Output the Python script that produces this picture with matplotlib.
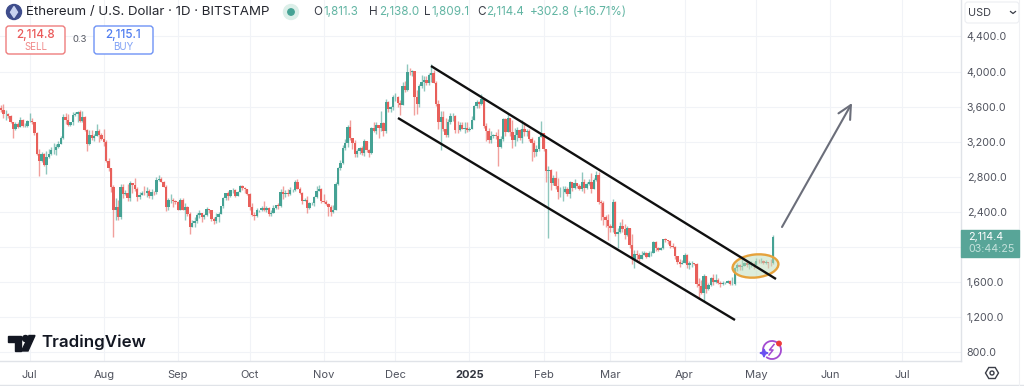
import numpy as np
import matplotlib
matplotlib.use("Agg")
import matplotlib.pyplot as plt
from matplotlib.patches import Circle, Ellipse, FancyBboxPatch, Polygon, Rectangle, Arc

plt.rcParams['font.family'] = ['Inter', 'DejaVu Sans']

# daily candles, first one is 19 Jun 2024, last one 8 May 2025
first_open = 3580
closes = [
    3560, 3515, 3515, 3490, 3420, 3350, 3400, 3370, 3450, 3375, 3375, 3435,  # jun
    3440, 3420, 3295, 3060, 2985, 3065, 2935, 3020, 3065, 3100, 3100, 3135, 3175, 3245, 3485, 3445,
    3385, 3425, 3505, 3520, 3535, 3440, 3480, 3335, 3175, 3275, 3245, 3270, 3320, 3280, 3230,  # jul
    3200, 2985, 2905, 2685, 2420, 2460, 2340, 2680, 2600, 2610, 2555, 2725, 2700, 2660, 2570, 2590,
    2615, 2610, 2635, 2575, 2630, 2625, 2765, 2770, 2745, 2685, 2455, 2530, 2530, 2525, 2515,  # aug
    2425, 2535, 2425, 2450, 2370, 2225, 2270, 2295, 2360, 2385, 2340, 2360, 2435, 2415, 2315, 2295,
    2340, 2370, 2465, 2560, 2610, 2580, 2645, 2650, 2580, 2630, 2695, 2675, 2660, 2600,  # sep
    2450, 2365, 2350, 2415, 2415, 2440, 2420, 2440, 2370, 2385, 2440, 2475, 2465, 2630, 2605, 2610,
    2605, 2645, 2645, 2745, 2665, 2620, 2525, 2535, 2440, 2505, 2505, 2570, 2640, 2660, 2520,  # oct
    2510, 2490, 2455, 2400, 2425, 2720, 2895, 2960, 3125, 3180, 3370, 3240, 3185, 3060, 3090, 3130,
    3070, 3205, 3105, 3070, 3355, 3325, 3395, 3360, 3415, 3325, 3655, 3575, 3590, 3705,  # nov
    3705, 3645, 3615, 3835, 3785, 4000, 3995, 4005, 3705, 3625, 3835, 3880, 3905, 3870, 3960, 3985,
    3875, 3625, 3420, 3480, 3340, 3280, 3420, 3490, 3495, 3335, 3330, 3395, 3350, 3360, 3335,  # dec
    3350, 3450, 3605, 3655, 3635, 3685, 3380, 3325, 3220, 3265, 3280, 3265, 3135, 3225, 3455, 3305,
    3475, 3310, 3215, 3280, 3330, 3240, 3340, 3310, 3320, 3230, 3185, 3080, 3115, 3250, 3300,  # jan
    3120, 2870, 2880, 2730, 2785, 2690, 2625, 2630, 2630, 2660, 2600, 2735, 2675, 2725, 2695, 2660,
    2745, 2670, 2715, 2740, 2660, 2765, 2820, 2515, 2495, 2335, 2305, 2240,  # feb
    2215, 2515, 2150, 2175, 2240, 2200, 2140, 2210, 2020, 1865, 1920, 1910, 1860, 1910, 1935, 1885,
    1925, 1930, 2055, 1985, 1965, 1985, 2085, 2080, 2065, 2010, 2000, 1895, 1830, 1805, 1820,  # mar
    1905, 1795, 1815, 1815, 1805, 1580, 1555, 1475, 1665, 1520, 1565, 1645, 1595, 1625, 1590, 1575,
    1585, 1590, 1615, 1580, 1580, 1755, 1795, 1770, 1785, 1820, 1795, 1800, 1800, 1795,  # apr
    1840, 1835, 1835, 1810, 1825, 1815, 1811, 2114,  # may
]
highs = [
    3620, 3625, 3565, 3525, 3500, 3425, 3430, 3425, 3480, 3460, 3410, 3450,
    3525, 3465, 3430, 3315, 3115, 3085, 3070, 3095, 3115, 3135, 3180, 3170, 3205, 3265, 3515, 3530,
    3515, 3430, 3540, 3535, 3545, 3565, 3550, 3490, 3350, 3335, 3330, 3285, 3400, 3340, 3300,
    3345, 3215, 3015, 2860, 2700, 2555, 2530, 2720, 2720, 2645, 2715, 2750, 2730, 2780, 2680, 2625,
    2640, 2690, 2680, 2660, 2665, 2635, 2795, 2820, 2795, 2755, 2700, 2555, 2600, 2560, 2530,
    2525, 2560, 2555, 2500, 2465, 2400, 2305, 2340, 2390, 2420, 2385, 2380, 2460, 2425, 2420, 2345,
    2385, 2395, 2470, 2570, 2620, 2640, 2650, 2675, 2660, 2640, 2710, 2705, 2680, 2660,
    2610, 2500, 2400, 2440, 2425, 2465, 2520, 2465, 2460, 2420, 2480, 2480, 2500, 2660, 2690, 2650,
    2660, 2680, 2660, 2760, 2770, 2680, 2630, 2560, 2585, 2510, 2510, 2585, 2690, 2700, 2670,
    2600, 2540, 2495, 2480, 2480, 2735, 2910, 2990, 3160, 3235, 3395, 3450, 3240, 3220, 3115, 3135,
    3145, 3230, 3155, 3120, 3365, 3430, 3430, 3375, 3550, 3430, 3685, 3660, 3605, 3735,
    3760, 3720, 3680, 3885, 3890, 4090, 4040, 4020, 4010, 3785, 3860, 3965, 3950, 3955, 3985, 4085,
    4015, 3895, 3680, 3550, 3550, 3475, 3460, 3530, 3530, 3510, 3440, 3420, 3430, 3430, 3425,
    3365, 3490, 3620, 3675, 3660, 3745, 3700, 3410, 3355, 3320, 3290, 3305, 3345, 3260, 3475, 3475,
    3525, 3440, 3450, 3360, 3365, 3350, 3450, 3420, 3350, 3350, 3255, 3215, 3160, 3270, 3440,
    3255, 3120, 2925, 2890, 2825, 2860, 2790, 2680, 2695, 2690, 2680, 2750, 2740, 2770, 2730, 2715,
    2850, 2770, 2735, 2770, 2845, 2785, 2860, 2850, 2530, 2525, 2365, 2380,
    2260, 2545, 2520, 2220, 2280, 2320, 2260, 2235, 2215, 2145, 1965, 1960, 1930, 1950, 1950, 1945,
    1955, 1950, 2065, 2070, 2000, 2000, 2090, 2105, 2080, 2075, 2040, 2015, 1900, 1860, 1850,
    1925, 1920, 1835, 1835, 1820, 1815, 1640, 1620, 1690, 1670, 1590, 1655, 1690, 1690, 1645, 1605,
    1615, 1600, 1625, 1620, 1660, 1770, 1810, 1800, 1860, 1830, 1830, 1835, 1835, 1830,
    1875, 1865, 1870, 1845, 1850, 1825, 1860, 2138,
]
lows = [
    3540, 3465, 3445, 3470, 3415, 3240, 3335, 3360, 3365, 3365, 3365, 3365,
    3420, 3400, 3280, 3050, 2810, 2965, 2925, 2830, 3010, 3045, 3060, 3050, 3130, 3170, 3235, 3405,
    3375, 3375, 3395, 3490, 3430, 3420, 3420, 3320, 3090, 3165, 3220, 3210, 3310, 3200, 3215,
    3155, 2965, 2865, 2630, 2110, 2310, 2310, 2320, 2555, 2590, 2520, 2520, 2610, 2640, 2520, 2550,
    2590, 2590, 2570, 2560, 2550, 2590, 2605, 2750, 2735, 2680, 2410, 2425, 2505, 2450, 2490,
    2420, 2415, 2420, 2310, 2355, 2150, 2225, 2225, 2275, 2325, 2280, 2315, 2350, 2390, 2300, 2260,
    2270, 2280, 2380, 2440, 2540, 2540, 2570, 2615, 2565, 2575, 2630, 2645, 2620, 2590,
    2420, 2350, 2310, 2340, 2395, 2410, 2410, 2400, 2350, 2350, 2385, 2435, 2435, 2460, 2550, 2570,
    2585, 2590, 2630, 2640, 2660, 2600, 2490, 2520, 2390, 2435, 2480, 2465, 2560, 2650, 2500,
    2500, 2475, 2355, 2355, 2385, 2420, 2710, 2880, 2950, 3100, 3135, 3215, 3120, 3025, 3020, 3065,
    3050, 3040, 3085, 3030, 3065, 3315, 3290, 3245, 3325, 3260, 3300, 3540, 3535, 3565,
    3660, 3600, 3500, 3615, 3770, 3780, 3965, 3945, 3510, 3515, 3600, 3810, 3775, 3850, 3845, 3880,
    3865, 3610, 3350, 3110, 3320, 3255, 3250, 3405, 3440, 3300, 3300, 3320, 3340, 3300, 3315,
    3325, 3345, 3445, 3580, 3580, 3620, 3360, 3205, 3190, 3190, 3240, 3235, 2920, 3130, 3210, 3265,
    3305, 3260, 3130, 3150, 3210, 3220, 3190, 3260, 3265, 3210, 2985, 3030, 3035, 3090, 3250,
    3090, 2740, 2100, 2650, 2700, 2660, 2550, 2570, 2520, 2610, 2580, 2560, 2640, 2660, 2670, 2650,
    2640, 2620, 2660, 2700, 2620, 2655, 2750, 2490, 2310, 2250, 2230, 2075,
    2170, 2175, 2125, 1990, 2160, 2170, 2085, 2125, 1990, 1800, 1755, 1830, 1820, 1860, 1905, 1875,
    1885, 1890, 1925, 1950, 1950, 1965, 1975, 2060, 2035, 1990, 1985, 1860, 1800, 1770, 1800,
    1820, 1760, 1745, 1770, 1790, 1540, 1410, 1465, 1385, 1470, 1505, 1555, 1570, 1590, 1580, 1545,
    1570, 1575, 1585, 1565, 1570, 1560, 1730, 1735, 1735, 1780, 1770, 1745, 1770, 1745,
    1790, 1815, 1815, 1800, 1800, 1755, 1780, 1809,
]

price_ticks = [800, 1200, 1600, 2000, 2400, 2800, 3200, 3600, 4000, 4400]
price_labels = ['800.0', '1,200.0', '1,600.0', '', '2,400.0', '2,800.0', '3,200.0', '3,600.0', '4,000.0', '4,400.0']
month_days = [0, 31, 62, 92, 123, 153, 184, 215, 243, 274, 304, 335, 365]
month_labels = ['Jul', 'Aug', 'Sep', 'Oct', 'Nov', 'Dec', '2025', 'Feb', 'Mar', 'Apr', 'May', 'Jun', 'Jul']

UP = '#45a294'
DOWN = '#e85f5a'
GRID = '#f1f3f7'
TEXT = '#50535e'

days = np.arange(len(closes)) - 12
closes = np.array(closes)
opens = np.concatenate([[first_open], closes[:-1]])
highs = np.maximum(np.array(highs), np.maximum(opens, closes))
lows = np.minimum(np.array(lows), np.minimum(opens, closes))
colors = [UP if c >= o else DOWN for o, c in zip(opens, closes)]

fig = plt.figure(figsize=(10.24, 3.86), dpi=100)
ax = fig.add_axes([0, 25 / 386, 960.5 / 1024, 361 / 386])

ax.set_xlim(-29.7 / 2.39, (960.5 - 29.7) / 2.39)
ax.set_ylim(4400 - (361 - 36.5) * 11.41, 4400 + 36.5 * 11.41)

ax.vlines(days, lows, highs, colors=colors, lw=1.0, alpha=0.6, zorder=2)
ax.bar(days, np.abs(closes - opens), bottom=np.minimum(opens, closes), width=1.0,
       color=colors, linewidth=0, zorder=3)

ax.yaxis.tick_right()
ax.set_yticks(price_ticks)
ax.set_yticklabels(price_labels)
ax.set_xticks(month_days)
ax.set_xticklabels(month_labels)
ax.tick_params(axis='y', length=0, pad=4.5, labelsize=7.7, labelcolor=TEXT)
ax.tick_params(axis='x', length=0, pad=6.5, labelsize=8, labelcolor=TEXT)
ax.get_xticklabels()[6].set_fontweight('bold')
ax.get_xticklabels()[6].set_color('#333640')
ax.grid(True, color=GRID, lw=0.8, zorder=0)
ax.set_axisbelow(True)
for side in ['top', 'left']:
    ax.spines[side].set_visible(False)
for side in ['bottom', 'right']:
    ax.spines[side].set_color('#e0e3e8')
    ax.spines[side].set_linewidth(1)

# everything drawn on top of the chart, in picture pixels
top = fig.add_axes([0, 0, 1, 1])
top.set_xlim(0, 1024)
top.set_ylim(386, 0)
top.axis('off')
top.patch.set_alpha(0)

top.plot([0, 1024], [385, 385], color='#e0e3e8', lw=1)
top.plot([1019, 1019], [0, 385], color='#f0f1f4', lw=0.8)

# drawings
top.add_patch(Ellipse((755.5, 266), 46, 23, angle=-6, facecolor='#bcdcb8', alpha=0.5, edgecolor='none', zorder=4))
top.add_patch(Ellipse((755.5, 266), 46, 23, angle=-6, facecolor='none', edgecolor='#e6a23c', lw=1.7, zorder=5))
top.plot([431, 776], [66, 279], color='#101010', lw=1.7, solid_capstyle='butt', zorder=6)
top.plot([398, 735], [118, 320], color='#101010', lw=1.7, solid_capstyle='butt', zorder=6)
top.annotate('', xy=(852, 103), xytext=(782, 227),
             arrowprops=dict(arrowstyle='->', color='#6b6e7a', lw=1.5, mutation_scale=24,
                             shrinkA=0, shrinkB=0), zorder=6)

# header
top.add_patch(Circle((14, 12), 7.5, color='#3f4d8c'))
top.add_patch(Polygon([(14, 6.5), (17.5, 12.2), (14, 17.5), (10.5, 12.2)], color='#c9d3f0'))
top.text(26, 12, 'Ethereum / U.S. Dollar · 1D · BITSTAMP', fontsize=9.6, color='#24262e', va='center')
top.add_patch(Circle((291, 12), 7.5, color='#dcefe9'))
top.add_patch(Circle((291, 12), 3.2, color='#45a294'))

ohlc_parts = [(313, 'O', '#3a3d47'), (323, '1,811.3', '#62b5a3'), (369, 'H', '#3a3d47'), (379, '2,138.0', '#62b5a3'),
              (424, 'L', '#3a3d47'), (431, '1,809.1', '#62b5a3'), (477, 'C', '#3a3d47'), (486, '2,114.4', '#62b5a3'),
              (530, '+302.8', '#62b5a3'), (573, '(+16.71%)', '#62b5a3')]
for px, label, col in ohlc_parts:
    top.text(px, 12, label, fontsize=8.4, color=col, va='center')

# buy / sell
top.add_patch(FancyBboxPatch((6, 26), 59, 28, boxstyle='round,pad=0,rounding_size=3', facecolor='white', edgecolor='#ee7d7d', lw=1))
top.text(35.5, 35, '2,114.8', fontsize=8.4, color='#ea5a5a', ha='center', va='center', fontweight='medium')
top.text(35.5, 47, 'SELL', fontsize=7, color='#f08a8a', ha='center', va='center')
top.text(79.5, 40, '0.3', fontsize=6.8, color='#555862', ha='center', va='center')
top.add_patch(FancyBboxPatch((94, 26), 59, 28, boxstyle='round,pad=0,rounding_size=3', facecolor='white', edgecolor='#6e93f5', lw=1))
top.text(123.5, 35, '2,115.1', fontsize=8.4, color='#4f7cf0', ha='center', va='center', fontweight='medium')
top.text(123.5, 47, 'BUY', fontsize=7, color='#7fa0f5', ha='center', va='center')

# price axis extras
top.add_patch(FancyBboxPatch((965, 2), 54, 21, boxstyle='round,pad=0,rounding_size=3', facecolor='white', edgecolor='#eceef2', lw=0.8))
top.text(968, 12.5, 'USD', fontsize=7.8, color='#3a3d47', va='center')
top.plot([1010.5, 1013, 1015.5], [11.5, 13.5, 11.5], color='#3a3d47', lw=0.9)
top.add_patch(Rectangle((961, 230), 57.5, 27, color='#58a598', zorder=7))
top.text(968.5, 237.5, '2,114.4', fontsize=7.7, color='white', va='center', zorder=8)
top.text(968.5, 249.5, '03:44:25', fontsize=7.7, color='#c4e2dc', va='center', zorder=8)

# settings hexagon
top.add_patch(Polygon([(985.5, 373), (988.8, 367.5), (995.2, 367.5), (998.5, 373), (995.2, 378.5), (988.8, 378.5)],
                      facecolor='white', edgecolor='#3a3d47', lw=1))
top.add_patch(Circle((992, 373), 2, facecolor='white', edgecolor='#3a3d47', lw=1))

# logo
logo_col = '#131722'
top.add_patch(Polygon([(8, 335.5), (21, 335.5), (21, 351), (14.5, 351), (14.5, 341.5), (8, 341.5)], color=logo_col))
top.add_patch(Circle((25.5, 338.5), 3, color=logo_col))
top.add_patch(Polygon([(29, 335.5), (35, 335.5), (28, 351), (21.5, 351)], color=logo_col))
top.text(41, 342.5, 'TradingView', fontsize=12.2, color=logo_col, va='center', fontweight='semibold')

# purple badge
top.add_patch(Arc((772, 350), 18, 18, theta1=-200, theta2=130, color='#a44bd1', lw=1.3))
top.plot([774, 769.5, 773, 769], [344.5, 350, 350, 355], color='#a44bd1', lw=1.1)
top.add_patch(Polygon([(764, 349), (765.3, 352), (768, 353), (765.3, 354), (764, 357), (762.7, 354), (760, 353), (762.7, 352)], color='#6a4ff0'))
top.add_patch(Circle((779, 343.5), 2.2, color='#ee3b3b'))

fig.savefig('out.png', dpi=100, facecolor='white')
